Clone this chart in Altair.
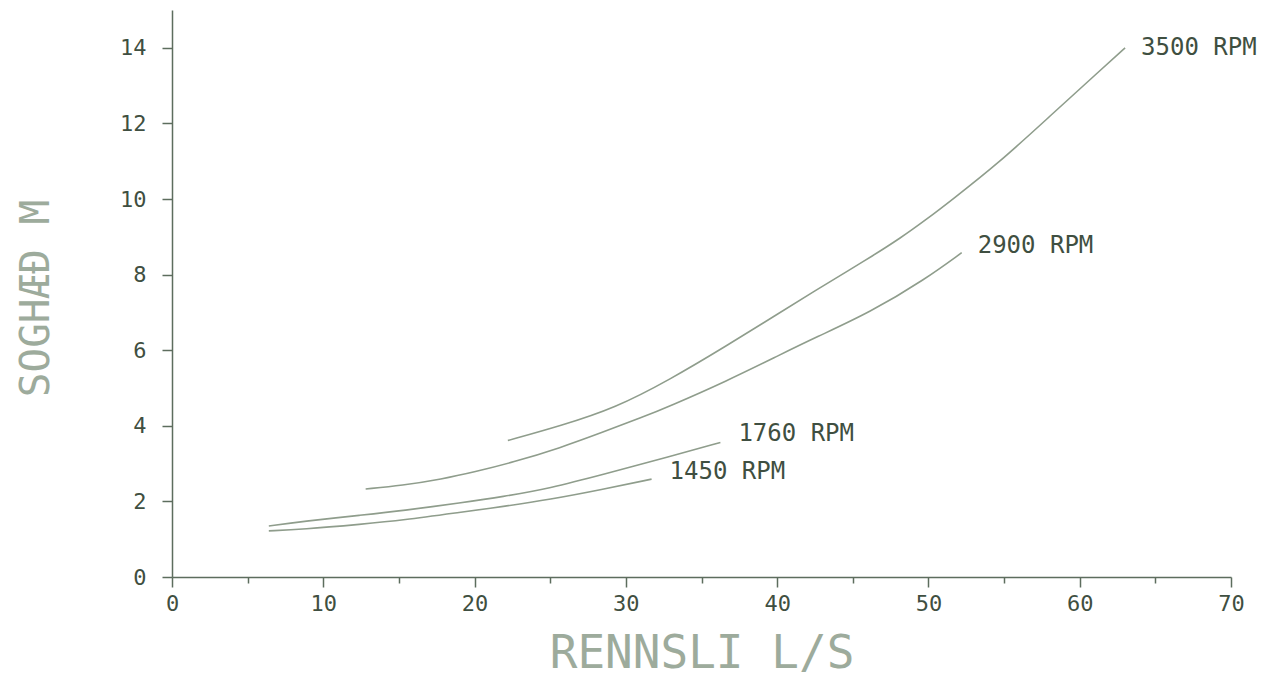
import altair as alt
import pandas as pd

# Flow (L/S) and head (M), one array pair per speed
x_3500 = [22.2, 25.7, 29.3, 32.9, 36.6, 40.2, 42.5, 44.8, 46.2, 48.1, 50.0, 51.4, 54.7, 58.05, 61.35, 63.0]
y_3500 = [3.61, 4.00, 4.47, 5.22, 6.10, 7.00, 7.57, 8.13, 8.47, 8.95, 9.50, 9.93, 10.97, 12.20, 13.40, 14.0]

x_2900 = [12.8, 15.2, 17.85, 20.0, 22.5, 25.7, 28.4, 31.06, 32.9, 36.6, 40.2, 42.5, 46.15, 49.8, 52.2]
y_2900 = [2.33, 2.42, 2.59, 2.78, 3.03, 3.42, 3.82, 4.22, 4.52, 5.17, 5.88, 6.33, 7.00, 7.88, 8.58]

x_1760 = [6.4, 8.6, 12.6, 15.2, 19.2, 21.8, 25.0, 28.4, 32.9, 36.25]
y_1760 = [1.35, 1.47, 1.64, 1.75, 1.97, 2.12, 2.35, 2.70, 3.19, 3.56]

x_1450 = [6.4, 8.6, 12.6, 15.2, 19.2, 21.8, 25.0, 28.4, 31.7]
y_1450 = [1.22, 1.26, 1.40, 1.50, 1.72, 1.86, 2.05, 2.31, 2.59]

series_names = ["3500 RPM", "2900 RPM", "1760 RPM", "1450 RPM"]
series_x = [x_3500, x_2900, x_1760, x_1450]
series_y = [y_3500, y_2900, y_1760, y_1450]

x_ticks = list(range(0, 71, 5))
y_ticks = list(range(0, 16, 1))

rows = []
for name, xs, ys in zip(series_names, series_x, series_y):
    for i, (a, b) in enumerate(zip(xs, ys)):
        rows.append({"serie": name, "q": a, "h": b, "i": i, "last": i == len(xs) - 1})
df = pd.DataFrame(rows)

LINE = "#8f9d8c"
DARK = "#3f4f41"
AXIS = "#5d6d5e"
TITLE = "#9dab9c"
FONT = "DejaVu Sans Mono"

x_enc = alt.X(
    "q:Q",
    scale=alt.Scale(domain=[0, 70], nice=False, zero=False),
    axis=alt.Axis(
        title="RENNSLI L/S",
        values=x_ticks,
        labelExpr="datum.value % 10 === 0 ? datum.label : ''",
        tickSize={"condition": {"test": "datum.value % 10 === 0", "value": 10}, "value": 6},
        labelPadding=6,
        labelFontSize=22,
        labelFont=FONT,
        labelColor=DARK,
        labelFlush=False,
        labelOverlap=False,
        titleFont=FONT,
        titleFontSize=46,
        titleFontWeight="normal",
        titleColor=TITLE,
        titleBaseline="alphabetic",
        titleY=90,
        domainColor=AXIS,
        tickColor=AXIS,
        domainWidth=1.5,
        tickWidth=1.5,
        grid=False,
    ),
)
y_enc = alt.Y(
    "h:Q",
    scale=alt.Scale(domain=[0, 15], nice=False, zero=False),
    axis=alt.Axis(
        title="SOGHÆÐ M",
        values=y_ticks,
        labelExpr="datum.value % 2 === 0 ? datum.label : ''",
        tickSize={"condition": {"test": "datum.value % 2 === 0", "value": 10}, "value": 6},
        labelPadding=16,
        labelFontSize=22,
        labelFont=FONT,
        labelColor=DARK,
        labelFlush=False,
        labelOverlap=False,
        titleFont=FONT,
        titleFontSize=41,
        titleFontWeight="normal",
        titleColor=TITLE,
        titleBaseline="alphabetic",
        titleAngle=-90,
        titleX=-124,
        titleY=288,
        titleAlign="center",
        domainColor=AXIS,
        tickColor=AXIS,
        domainWidth=1.5,
        tickWidth=1.5,
        grid=False,
    ),
)

base = alt.Chart(df)

lines = base.mark_line(color=LINE, strokeWidth=1.6, interpolate="basis").encode(
    x=x_enc, y=y_enc, detail="serie:N", order="i:Q"
)

label_offsets = {"3500 RPM": (16, 0), "2900 RPM": (16, -7), "1760 RPM": (18, -8), "1450 RPM": (18, -7)}
layers = [lines]
for name in series_names:
    dx, dy = label_offsets[name]
    layers.append(
        base.transform_filter(
            (alt.datum.serie == name) & (alt.datum.last == True)
        ).mark_text(
            align="left", baseline="middle", dx=dx, dy=dy,
            font=FONT, fontSize=24, color=DARK
        ).encode(x="q:Q", y="h:Q", text="serie:N")
    )

chart = alt.layer(*layers).properties(
    width=1059,
    height=567,
    background="white",
    autosize=alt.AutoSizeParams(type="none"),
    padding={"left": 164, "top": 2, "right": 45, "bottom": 110},
).configure_view(stroke=None, strokeWidth=0)

chart.save("out.html", embed_options={"renderer": "svg", "actions": False})
